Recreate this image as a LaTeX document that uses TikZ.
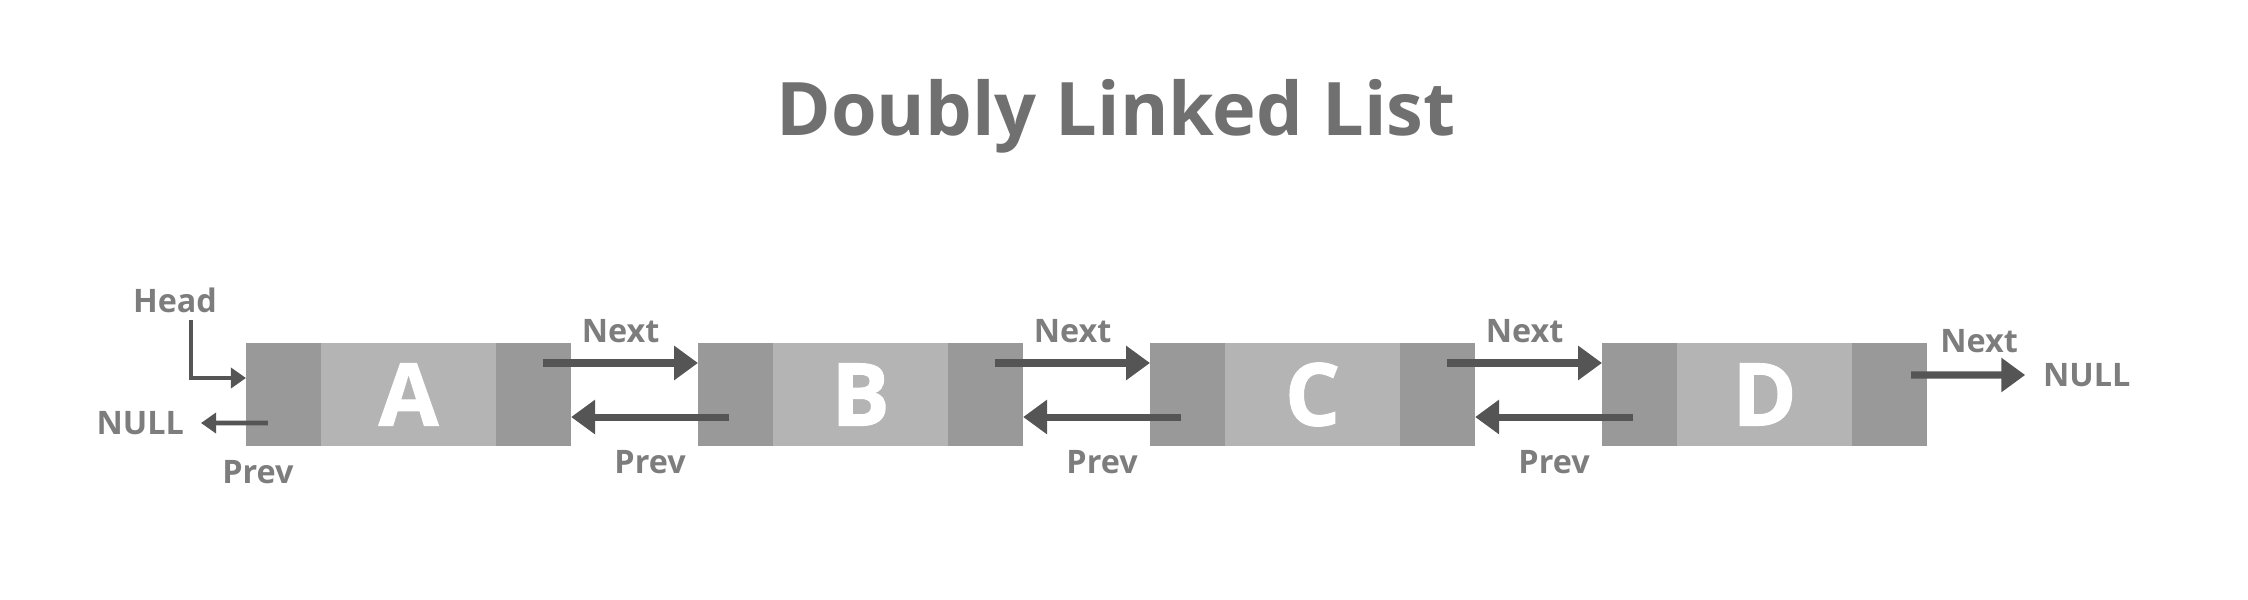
\documentclass[tikz,border=0pt]{standalone}
\usepackage{fontspec}
\setmainfont{Open Sans}
\newfontfamily\heavyfont{Open Sans}[BoldFeatures={FakeBold=1.2}]
\usepackage{xcolor}
\usetikzlibrary{calc}
\usetikzlibrary{positioning}
\usetikzlibrary{arrows.meta}
\definecolor{celldark}{HTML}{999999}
\definecolor{celllight}{HTML}{B4B4B4}
\definecolor{linkgray}{HTML}{555555}
\definecolor{labelgray}{HTML}{7D7D7D}
\definecolor{titlegray}{HTML}{707070}

\begin{document}
\begin{tikzpicture}[x=0.01cm,y=0.01cm,
    every node/.style={inner sep=0,outer sep=0},
    ptr/.style={minimum width=0.75cm,minimum height=1.03cm,fill=celldark},
    val/.style={minimum width=1.75cm,minimum height=1.03cm,fill=celllight,text=white,font=\heavyfont\fontsize{24.7}{28}\selectfont\bfseries},
    lab/.style={text=labelgray,font=\fontsize{9.2}{11}\selectfont\bfseries},
    link/.style={draw=linkgray,line width=2pt,-{Triangle[length=6.8pt,width=9.4pt]}},
    thinlink/.style={draw=linkgray,line width=1.4pt,-{Triangle[length=4.3pt,width=5.7pt]}}]
    \useasboundingbox (0,0) rectangle (2248,599);

    \node[text=titlegray, font=\fontsize{21}{25}\selectfont\bfseries, anchor=base](title) at (1116,464) {Doubly Linked List};

    % the four list nodes: prev | value | next
    \node[ptr](a1) at (283.5,204.5) {}; \node[val, right=0pt of a1](a) {A}; \node[ptr, right=0pt of a](a2) {};
    \node[ptr](b1) at ($(a1)+(452,0)$) {}; \node[val, right=0pt of b1](b) {B}; \node[ptr, right=0pt of b](b2) {};
    \node[ptr](c1) at ($(b1)+(452,0)$) {}; \node[val, right=0pt of c1](c) {C}; \node[ptr, right=0pt of c](c2) {};
    \node[ptr](d1) at ($(c1)+(452,0)$) {}; \node[val, right=0pt of d1](d) {D}; \node[ptr, right=0pt of d](d2) {};

    % head and the left end
    \node[lab, anchor=base](head) at ($(a1.north west)+(-71,30)$) {Head};
    \draw[thinlink] ([xshift=0.16cm,yshift=-0.07cm]head.south) |- ([yshift=0.165cm]a1.west);
    \node[lab, anchor=east](null1) at ($(a1.west)+(-62,-28.5)$) {NULL};
    \draw[thinlink] ([xshift=0.22cm,yshift=-0.285cm]a1.west) -- ([xshift=0.17cm]null1.east);
    \node[lab, anchor=north](prev0) at ($(a1.south)+(-25.5,-14)$) {Prev};

    % links between nodes
    \draw[link] ([xshift=-0.28cm,yshift=0.315cm]a2.east) -- node[lab, above=0.2cm]{Next} ([yshift=0.315cm]b1.west);
    \draw[link] ([xshift=0.31cm,yshift=-0.225cm]b1.west) -- node[lab, below=0.33cm]{Prev} ([yshift=-0.225cm]a2.east);
    \draw[link] ([xshift=-0.28cm,yshift=0.315cm]b2.east) -- node[lab, above=0.2cm]{Next} ([yshift=0.315cm]c1.west);
    \draw[link] ([xshift=0.31cm,yshift=-0.225cm]c1.west) -- node[lab, below=0.33cm]{Prev} ([yshift=-0.225cm]b2.east);
    \draw[link] ([xshift=-0.28cm,yshift=0.315cm]c2.east) -- node[lab, above=0.2cm]{Next} ([yshift=0.315cm]d1.west);
    \draw[link] ([xshift=0.31cm,yshift=-0.225cm]d1.west) -- node[lab, below=0.33cm]{Prev} ([yshift=-0.225cm]c2.east);

    % right end
    \node[lab, anchor=west](null2) at ($(d2.east)+(116,19.5)$) {NULL};
    \draw[link] ([xshift=-0.16cm,yshift=0.195cm]d2.east) -- node[lab, above=0.22cm, xshift=0.11cm]{Next} ([xshift=-0.18cm]null2.west);
\end{tikzpicture}
\end{document}
